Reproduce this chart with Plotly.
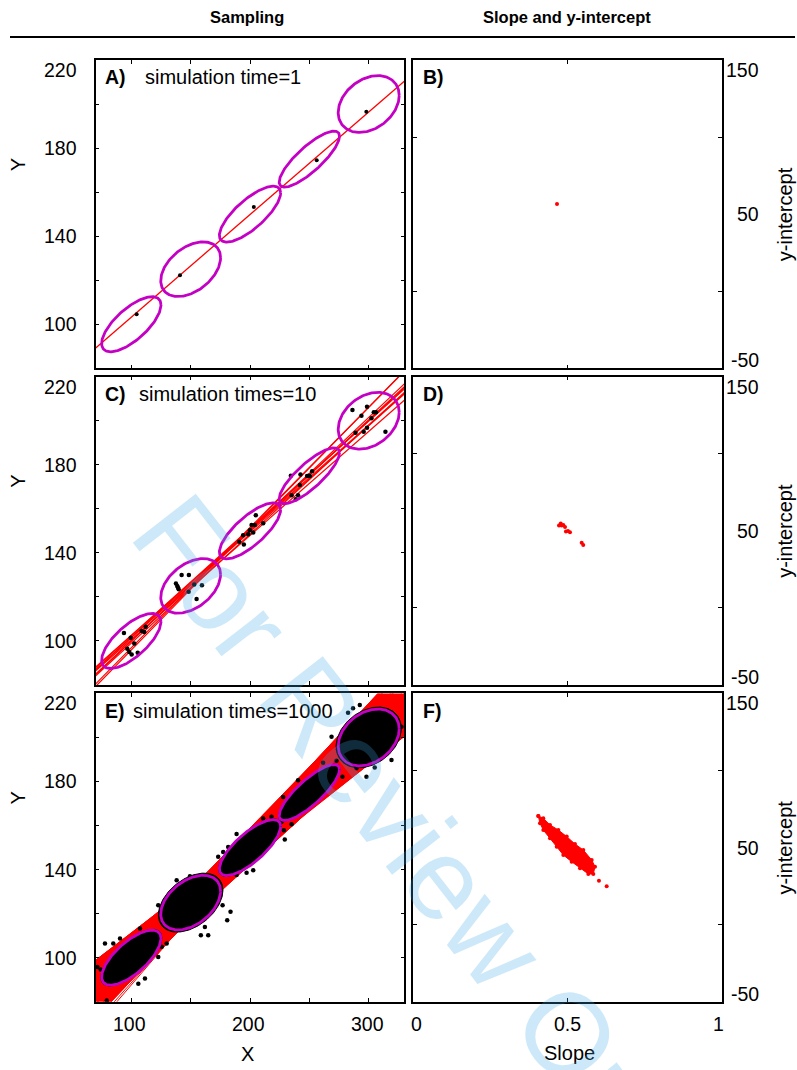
import numpy as np
import plotly.graph_objects as go

FONT = "Liberation Sans, Arial, Helvetica, sans-serif"
W, H = 797, 1070

# ---- population groups: centres and ellipse shape (x half-width, y half-height, correlation)
grp_x = [100, 150, 200, 250, 300]
grp_y = [100, 125, 150, 175, 200]
ell_hx = [25.0, 25.2, 25.8, 25.4, 25.7]
ell_hy = [12.5, 12.4, 12.7, 12.7, 12.9]
ell_rho = [0.70, 0.42, 0.76, 0.82, 0.30]

# ---- one simulation: sampled points and fitted line
sim1_x = [104.5, 141.0, 203.2, 256.2, 298.0]
sim1_y = [104.5, 122.3, 153.3, 174.5, 196.5]
sim1_slope = [0.466]
sim1_icpt = [56.6]

# ---- ten simulations
sim10_x = [93.8, 99.5, 108.7, 110.9, 112.1, 102.5, 96.6, 98.3, 100.3, 105.4,
           142.4, 148.5, 137.6, 138.7, 139.9, 153.0, 159.5, 148.3, 155.0, 139.3,
           204.9, 201.3, 204.1, 199.9, 198.5, 194.2, 190.9, 194.8, 202.7, 211.1,
           234.4, 242.5, 249.5, 252.3, 250.4, 242.0, 235.0, 240.5, 238.6, 248.1,
           286.3, 298.6, 293.9, 302.3, 304.3, 306.2, 288.9, 295.8, 298.6, 314.1]
sim10_y = [103.6, 101.4, 104.5, 104.1, 106.4, 98.8, 96.5, 95.0, 93.8, 94.7,
           129.9, 129.9, 126.1, 124.9, 123.5, 125.6, 125.3, 122.3, 119.0, 124.3,
           157.1, 152.6, 152.6, 150.3, 148.4, 148.0, 145.0, 143.8, 149.3, 153.4,
           175.0, 175.6, 175.0, 177.1, 174.9, 170.8, 166.2, 166.2, 164.4, 174.9,
           204.9, 206.4, 202.3, 201.1, 203.8, 203.8, 194.5, 195.0, 196.8, 195.0]
sim10_slope = [0.4725, 0.478, 0.4865, 0.492, 0.495, 0.5016, 0.508, 0.546, 0.551, 0.481]
sim10_icpt = [53.4, 54.7, 53.8, 52.5, 49.5, 49.9, 49.1, 42.3, 40.8, 53.4]

# ---- thousand simulations
# outline of the dense slope / y-intercept cloud
sim1000_hull_slope = [0.4053, 0.4215, 0.4433, 0.4702, 0.4974, 0.5243, 0.5512, 0.5785, 0.5892,
                      0.5837, 0.5674, 0.5405, 0.5136, 0.4864, 0.4650, 0.4433, 0.4215, 0.4108]
sim1000_hull_icpt = [70.5, 69.0, 64.7, 61.4, 57.1, 52.3, 48.4, 41.9, 37.6,
                     32.9, 32.9, 36.6, 40.8, 45.2, 50.6, 56.0, 61.4, 65.8]
# stray fits outside the dense cloud
sim1000_stray_slope = [0.602, 0.627]
sim1000_stray_icpt = [28.4, 24.9]
# dense core of sampled points, relative to each group ellipse
sim1000_core_scale = [1.03, 1.08, 1.03, 1.02, 1.07]
# scattered sampled points outside the dense cores
sim1000_out_x = [71.4, 77.8, 84.8, 90.5, 107.3, 122.7, 125.6, 129.8, 111.5, 105.9, 79.3, 74.2,
                 122.7, 124.7, 129.2, 138.2, 149.4, 160.6, 174.0, 176.9, 180.8, 183.6, 164.8, 158.6, 162.0,
                 173.2, 177.4, 181.6, 188.7, 211.1, 218.1, 228.5, 229.3, 202.7, 188.7, 197.1,
                 227.9, 226.6, 235.0, 240.5, 261.6, 272.9, 277.9,
                 282.6, 286.8, 292.5, 268.7, 274.2, 289.7, 298.1, 305.1, 319.2, 327.6]
sim1000_out_y = [95.8, 106.4, 106.4, 108.7, 113.2, 100.3, 104.9, 106.4, 90.5, 88.2, 80.6, 94.6,
                 123.8, 120.8, 117.0, 135.2, 137.0, 136.4, 130.6, 123.8, 117.0, 120.8, 110.2, 110.2, 113.9,
                 145.8, 148.0, 150.3, 156.1, 163.2, 164.0, 157.9, 153.7, 139.7, 137.5, 138.5,
                 173.0, 161.7, 160.6, 180.6, 188.5, 189.4, 182.1,
                 211.2, 213.2, 214.7, 200.3, 194.6, 186.0, 182.1, 186.4, 189.7, 204.9]

# ---- axes ranges and labels
xy_xrange = [70, 330]
xy_yrange = [80, 220]
xy_xticks = [100, 150, 200, 250, 300]
xy_yticks = [100, 120, 140, 160, 180, 200, 220]
xy_xlabels = [100, 200, 300]
xy_ylabels = [100, 140, 180, 220]
si_xrange = [0, 1]
si_yrange = [-50, 150]
si_xticks = [0.5]
si_yticks = [0, 100]
si_xlabels = [0, 0.5, 1]
si_ylabels = [150, 50, -50]

MAGENTA = "#c400c4"
RED = "#ff0000"

# panel frames in pixels (left, right, top, bottom)
COL_L = (95.7, 404.3)
COL_R = (413.3, 721.7)
ROWS = [(60.0, 368.3), (376.7, 685.0), (693.4, 1001.7)]


def px_dom_x(a, b):
    return [a / W, b / W]


def px_dom_y(top, bot):
    return [1 - bot / H, 1 - top / H]


def ellipse(cx, cy, hx, hy, rho, s=1.0):
    t = np.linspace(0, 2 * np.pi, 181)
    x = cx + s * hx * np.cos(t)
    y = cy + s * hy * (rho * np.cos(t) + np.sqrt(1 - rho ** 2) * np.sin(t))
    return x, y


def fit_lines(slopes, icpts):
    xs, ys = [], []
    for a, b in zip(slopes, icpts):
        xs += [xy_xrange[0], xy_xrange[1], None]
        ys += [a * xy_xrange[0] + b, a * xy_xrange[1] + b, None]
    return xs, ys


fig = go.Figure()

# ---------- layout axes ----------
axis_common = dict(showgrid=False, zeroline=False, showline=True, linecolor="black",
                   linewidth=1.5, mirror="ticks", ticks="inside", ticklen=4,
                   tickwidth=1.3, tickcolor="black", showticklabels=False, fixedrange=True)
layout_axes = {}
for r, (top, bot) in enumerate(ROWS):
    for c, (l, rr) in enumerate([COL_L, COL_R]):
        n = r * 2 + c + 1
        xn = "xaxis" if n == 1 else f"xaxis{n}"
        yn = "yaxis" if n == 1 else f"yaxis{n}"
        if c == 0:
            xr, yr, xt, yt = xy_xrange, xy_yrange, xy_xticks, xy_yticks
        else:
            xr, yr, xt, yt = si_xrange, si_yrange, si_xticks, si_yticks
        layout_axes[xn] = dict(axis_common, domain=px_dom_x(l, rr), range=xr, tickvals=xt,
                               anchor=f"y{'' if n == 1 else n}")
        layout_axes[yn] = dict(axis_common, domain=px_dom_y(top, bot), range=yr, tickvals=yt,
                               anchor=f"x{'' if n == 1 else n}")


def ax(n):
    return ("x" if n == 1 else f"x{n}"), ("y" if n == 1 else f"y{n}")


def add_ellipses(n):
    xa, ya = ax(n)
    for i in range(len(grp_x)):
        ex, ey = ellipse(grp_x[i], grp_y[i], ell_hx[i], ell_hy[i], ell_rho[i])
        fig.add_trace(go.Scatter(x=ex, y=ey, mode="lines", line=dict(color=MAGENTA, width=2.8),
                                 xaxis=xa, yaxis=ya, hoverinfo="skip", showlegend=False))


# ---------- panel A ----------
lx, ly = fit_lines(sim1_slope, sim1_icpt)
fig.add_trace(go.Scatter(x=lx, y=ly, mode="lines", line=dict(color=RED, width=1.3),
                         xaxis="x", yaxis="y", showlegend=False))
fig.add_trace(go.Scatter(x=sim1_x, y=sim1_y, mode="markers", marker=dict(color="black", size=4),
                         xaxis="x", yaxis="y", showlegend=False))
add_ellipses(1)

# ---------- panel B ----------
fig.add_trace(go.Scatter(x=sim1_slope, y=sim1_icpt, mode="markers",
                         marker=dict(color=RED, size=4), xaxis="x2", yaxis="y2", showlegend=False))

# ---------- panel C ----------
lx, ly = fit_lines(sim10_slope, sim10_icpt)
fig.add_trace(go.Scatter(x=lx, y=ly, mode="lines", line=dict(color=RED, width=1.2),
                         xaxis="x3", yaxis="y3", showlegend=False))
fig.add_trace(go.Scatter(x=sim10_x, y=sim10_y, mode="markers", marker=dict(color="black", size=4.5),
                         xaxis="x3", yaxis="y3", showlegend=False))
add_ellipses(3)

# ---------- panel D ----------
fig.add_trace(go.Scatter(x=sim10_slope, y=sim10_icpt, mode="markers",
                         marker=dict(color=RED, size=4), xaxis="x4", yaxis="y4", showlegend=False))

# ---------- panel E ----------
gx = np.linspace(xy_xrange[0], xy_xrange[1], 131)
all_a = np.array(sim1000_hull_slope)
all_b = np.array(sim1000_hull_icpt)
fits = np.outer(all_a, gx) + all_b[:, None]
band_top, band_bot = fits.max(axis=0), fits.min(axis=0)
fig.add_trace(go.Scatter(x=np.concatenate([gx, gx[::-1]]), y=np.concatenate([band_top, band_bot[::-1]]),
                         mode="lines", fill="toself", fillcolor=RED, line=dict(color=RED, width=1),
                         xaxis="x5", yaxis="y5", hoverinfo="skip", showlegend=False))
lx, ly = fit_lines(sim1000_hull_slope + sim1000_stray_slope, sim1000_hull_icpt + sim1000_stray_icpt)
fig.add_trace(go.Scatter(x=lx, y=ly, mode="lines", line=dict(color=RED, width=1),
                         xaxis="x5", yaxis="y5", showlegend=False))
for i in range(len(grp_x)):
    ex, ey = ellipse(grp_x[i], grp_y[i], ell_hx[i], ell_hy[i], ell_rho[i], sim1000_core_scale[i])
    fig.add_trace(go.Scatter(x=ex, y=ey, mode="lines", fill="toself", fillcolor="black",
                             line=dict(color="black", width=1), xaxis="x5", yaxis="y5",
                             hoverinfo="skip", showlegend=False))
fig.add_trace(go.Scatter(x=sim1000_out_x, y=sim1000_out_y, mode="markers",
                         marker=dict(color="black", size=4.5), xaxis="x5", yaxis="y5", showlegend=False))
add_ellipses(5)

# ---------- panel F ----------
fig.add_trace(go.Scatter(x=sim1000_hull_slope + sim1000_hull_slope[:1],
                         y=sim1000_hull_icpt + sim1000_hull_icpt[:1],
                         mode="lines+markers", fill="toself", fillcolor=RED,
                         line=dict(color=RED, width=1), marker=dict(color=RED, size=4),
                         xaxis="x6", yaxis="y6", showlegend=False))
fig.add_trace(go.Scatter(x=sim1000_stray_slope, y=sim1000_stray_icpt, mode="markers",
                         marker=dict(color=RED, size=4), xaxis="x6", yaxis="y6", showlegend=False))

# ---------- text ----------
ann = []
TICK_FS = 19.5


def txt(text, x, y, size=20, bold=False, xanchor="center", yanchor="middle", angle=0,
        xref="paper", yref="paper", xshift=0, yshift=0, color="black"):
    if bold:
        text = f"<b>{text}</b>"
    ann.append(dict(text=text, x=x, y=y, xref=xref, yref=yref, showarrow=False,
                    xanchor=xanchor, yanchor=yanchor, textangle=angle, xshift=xshift, yshift=yshift,
                    font=dict(family=FONT, size=size, color=color)))


txt("Sampling", 247 / W, 1 - 17 / H, size=16.5, bold=True)
txt("Slope and y-intercept", 567 / W, 1 - 17 / H, size=16.5, bold=True)

panel_letters = [["A)", "B)"], ["C)", "D)"], ["E)", "F)"]]
panel_titles = ["simulation time=1", "simulation times=10", "simulation times=1000"]
title_x = [142.7, 136.7, 130.7]
for r, (top, bot) in enumerate(ROWS):
    ymid = 1 - (top + 17.5) / H
    txt(panel_letters[r][0], 102.7 / W, ymid, size=19.5, bold=True, xanchor="left")
    txt(panel_titles[r], title_x[r] / W, ymid, size=20, xanchor="left")
    txt(panel_letters[r][1], 421.5 / W, ymid, size=19.5, bold=True, xanchor="left")
    _, ya = ax(r * 2 + 1)
    _, yb = ax(r * 2 + 2)
    for v in xy_ylabels:
        txt(str(v), 79 / W, v, size=TICK_FS, xanchor="right", yref=ya,
            yshift=-10 if v == xy_yrange[1] else 0)
    for v in si_ylabels:
        sh = -10 if v == si_yrange[1] else (8 if v == si_yrange[0] else 0)
        txt(str(v), 761 / W, v, size=TICK_FS, xanchor="right", yref=yb, yshift=sh)
    # axis titles on the sides
    txt("Y", 18 / W, 1 - (0.5 * (top + bot) - 49) / H, size=20, angle=-90)
    txt("y-intercept", 785 / W, 1 - (0.5 * (top + bot)) / H, size=20, angle=-90)

for v in xy_xlabels:
    txt(str(v), v, 1 - 1024 / H, size=TICK_FS, xref="x5", xshift=-1.5)
for v in si_xlabels:
    sh = 3.4 if v == si_xrange[0] else (-3.7 if v == si_xrange[1] else 0)
    txt(f"{v:g}", v, 1 - 1024 / H, size=TICK_FS, xref="x6", xshift=sh)
txt("X", 247.7 / W, 1 - 1054 / H, size=20)
txt("Slope", 569 / W, 1 - 1053 / H, size=20)

# review watermark
txt("For Review Only", 422 / W, 1 - 848 / H, size=116, angle=52,
    color="rgba(60,170,230,0.26)")

fig.update_layout(
    width=W, height=H, margin=dict(l=0, r=0, t=0, b=0),
    paper_bgcolor="white", plot_bgcolor="white", showlegend=False,
    annotations=ann,
    shapes=[dict(type="line", xref="paper", yref="paper", x0=10 / W, x1=795 / W,
                 y0=1 - 37 / H, y1=1 - 37 / H, line=dict(color="black", width=2))],
    **layout_axes,
)

fig.write_html("out.html")
